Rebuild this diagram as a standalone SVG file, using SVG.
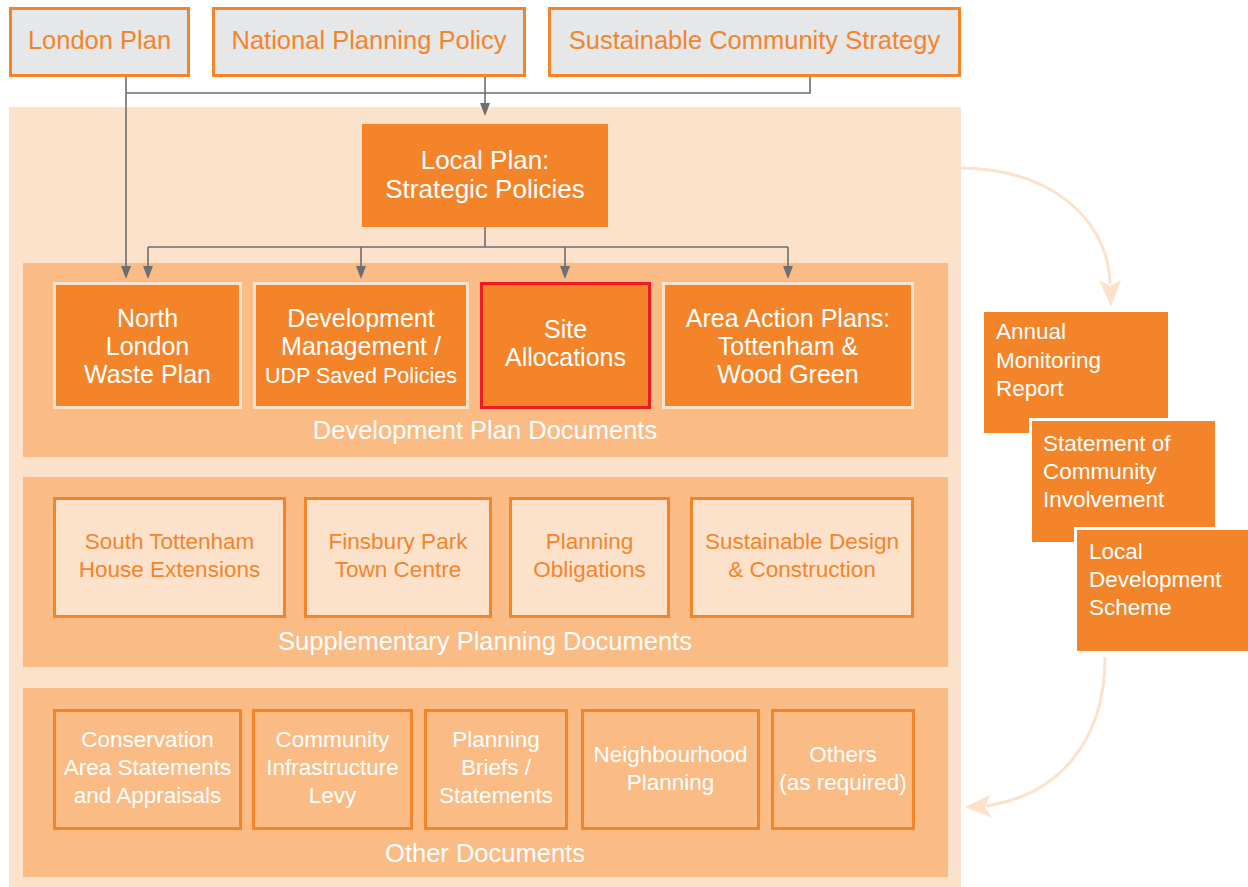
<svg xmlns="http://www.w3.org/2000/svg" width="1248" height="887" viewBox="0 0 1248 887">
<defs>
<style>
text{font-family:"Liberation Sans",Arial,Helvetica,sans-serif}
.top rect{fill:#e6e7e8;stroke:#f4842a;stroke-width:3}
.top text{fill:#f4842a;font-size:25.5px;text-anchor:middle}
.dpd rect{fill:#f4842a;stroke:#fde2cb;stroke-width:3}
.dpd text{fill:#fff;font-size:25px;text-anchor:middle}
.spd rect{fill:#fde2cb;stroke:#f4842a;stroke-width:3}
.spd text{fill:#f4842a;font-size:22.5px;text-anchor:middle}
.oth rect{fill:#fbbb85;stroke:#f4842a;stroke-width:3}
.oth text{fill:#fff;font-size:22.5px;text-anchor:middle}
.side rect{fill:#f4842a;stroke:#fff;stroke-width:3}
.side text{fill:#fff;font-size:22.5px}
.band{fill:#fbbb85}
.bandlabel{fill:#fff;font-size:25.5px;text-anchor:middle}
.conn{fill:none;stroke:#6d6e71;stroke-width:1.6}
.cycle{fill:none;stroke:#fde2cb;stroke-width:3}
</style>
<marker id="ah" markerUnits="userSpaceOnUse" markerWidth="14" markerHeight="11" refX="5" refY="5" orient="auto">
<path d="M0,0 L13,5 L0,10 z" fill="#6d6e71"/>
</marker>
</defs>
<rect width="1248" height="887" fill="#fff"/>

<g id="panel">
<rect x="9" y="107" width="952" height="780" fill="#fde2cb"/>
<rect class="band" x="23" y="263" width="925" height="194"/>
<rect class="band" x="23" y="477" width="925" height="190"/>
<rect class="band" x="23" y="688" width="925" height="189"/>
<text class="bandlabel" x="485" y="439">Development Plan Documents</text>
<text class="bandlabel" x="485" y="650">Supplementary Planning Documents</text>
<text class="bandlabel" x="485" y="862">Other Documents</text>
</g>

<g id="london-plan" class="top"><rect x="10.5" y="8.5" width="178" height="67"/><text x="99.5" y="49">London Plan</text></g>
<g id="national-planning-policy" class="top"><rect x="213.5" y="8.5" width="311" height="67"/><text x="369" y="49">National Planning Policy</text></g>
<g id="sustainable-community-strategy" class="top"><rect x="549.5" y="8.5" width="410" height="67"/><text x="754.5" y="49">Sustainable Community Strategy</text></g>

<g id="local-plan"><rect x="362" y="124" width="246" height="103" fill="#f4842a"/>
<text x="485" y="169" fill="#fff" font-size="26" text-anchor="middle">Local Plan:</text>
<text x="485" y="198" fill="#fff" font-size="26" text-anchor="middle">Strategic Policies</text></g>

<g id="north-london-waste-plan" class="dpd"><rect x="54.5" y="283.5" width="186" height="124"/>
<text x="147.5" y="327">North</text><text x="147.5" y="355">London</text><text x="147.5" y="383">Waste Plan</text></g>
<g id="development-management" class="dpd"><rect x="254.5" y="283.5" width="213" height="124"/>
<text x="361" y="327">Development</text><text x="361" y="355">Management /</text><text x="361" y="383" style="font-size:21.5px">UDP Saved Policies</text></g>
<g id="site-allocations" class="dpd"><rect x="481.5" y="283.5" width="168" height="124" style="stroke:#ed1c24"/>
<text x="565.5" y="338">Site</text><text x="565.5" y="366">Allocations</text></g>
<g id="area-action-plans" class="dpd"><rect x="663.5" y="283.5" width="249" height="124"/>
<text x="788" y="327">Area Action Plans:</text><text x="788" y="355">Tottenham &amp;</text><text x="788" y="383">Wood Green</text></g>

<g id="south-tottenham" class="spd"><rect x="54.5" y="498.5" width="230" height="118"/>
<text x="169.5" y="549">South Tottenham</text><text x="169.5" y="577">House Extensions</text></g>
<g id="finsbury-park" class="spd"><rect x="305.5" y="498.5" width="185" height="118"/>
<text x="398" y="549">Finsbury Park</text><text x="398" y="577">Town Centre</text></g>
<g id="planning-obligations" class="spd"><rect x="510.5" y="498.5" width="158" height="118"/>
<text x="589.5" y="549">Planning</text><text x="589.5" y="577">Obligations</text></g>
<g id="sustainable-design" class="spd"><rect x="691.5" y="498.5" width="221" height="118"/>
<text x="802" y="549">Sustainable Design</text><text x="802" y="577">&amp; Construction</text></g>

<g id="conservation-area" class="oth"><rect x="54.5" y="710.5" width="186" height="118"/>
<text x="147.5" y="747">Conservation</text><text x="147.5" y="775">Area Statements</text><text x="147.5" y="803">and Appraisals</text></g>
<g id="community-infrastructure-levy" class="oth"><rect x="253.5" y="710.5" width="158" height="118"/>
<text x="332.5" y="747">Community</text><text x="332.5" y="775">Infrastructure</text><text x="332.5" y="803">Levy</text></g>
<g id="planning-briefs" class="oth"><rect x="425.5" y="710.5" width="141" height="118"/>
<text x="496" y="747">Planning</text><text x="496" y="775">Briefs /</text><text x="496" y="803">Statements</text></g>
<g id="neighbourhood-planning" class="oth"><rect x="582.5" y="710.5" width="176" height="118"/>
<text x="670.5" y="762">Neighbourhood</text><text x="670.5" y="790">Planning</text></g>
<g id="others" class="oth"><rect x="772.5" y="710.5" width="141" height="118"/>
<text x="843" y="762">Others</text><text x="843" y="790">(as required)</text></g>

<g id="annual-monitoring-report" class="side"><rect x="982.5" y="310.5" width="187" height="124"/>
<text x="996" y="339">Annual</text><text x="996" y="368">Monitoring</text><text x="996" y="396">Report</text></g>
<g id="statement-of-community-involvement" class="side"><rect x="1030.5" y="419.5" width="186" height="124"/>
<text x="1043" y="451">Statement of</text><text x="1043" y="479">Community</text><text x="1043" y="507">Involvement</text></g>
<g id="local-development-scheme" class="side"><rect x="1075.5" y="528.5" width="180" height="124"/>
<text x="1089" y="559">Local</text><text x="1089" y="587">Development</text><text x="1089" y="615">Scheme</text></g>

<g id="connectors">
<path class="conn" d="M126,77 V271" marker-end="url(#ah)"/>
<path class="conn" d="M126,93 H810 V77"/>
<path class="conn" d="M485,77 V108" marker-end="url(#ah)"/>
<path class="conn" d="M485,227 V247"/>
<path class="conn" d="M148,247 H788"/>
<path class="conn" d="M148,247 V271" marker-end="url(#ah)"/>
<path class="conn" d="M361,247 V271" marker-end="url(#ah)"/>
<path class="conn" d="M565,247 V271" marker-end="url(#ah)"/>
<path class="conn" d="M788,247 V271" marker-end="url(#ah)"/>
<path class="cycle" d="M961,168 C1045,168 1108,215 1110,284"/>
<polygon points="1099,280 1110,286 1121,280 1111,307" fill="#fde2cb"/>
<path class="cycle" d="M1105,657 C1105,740 1060,795 986,806"/>
<polygon points="965,807 990,795 985,807 992,818" fill="#fde2cb"/>
</g>
</svg>
